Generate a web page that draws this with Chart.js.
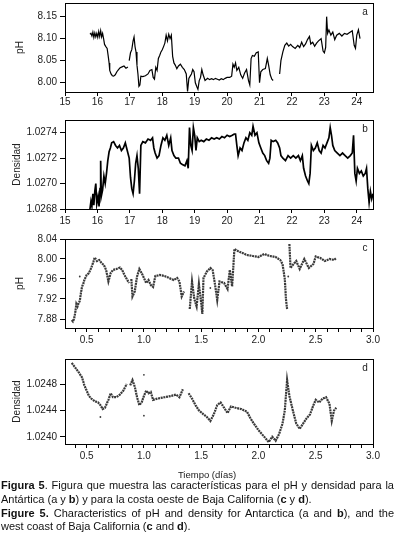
<!DOCTYPE html>
<html>
<head>
<meta charset="utf-8">
<script src="https://cdn.jsdelivr.net/npm/chart.js@4.4.1/dist/chart.umd.min.js"></script>
<style>
  body { margin: 0; background: #fff; width: 395px; height: 556px; overflow: hidden; position: relative; font-family: "Liberation Sans", Arial, sans-serif; }
  .panel { position: absolute; left: 0; }
  .xlab { position: absolute; top: 469px; left: 157px; width: 100px; text-align: center; font-size: 9.5px; color: #222; }
  .cap { position: absolute; left: 1px; width: 393px; font-size: 11px; color: #111; line-height: 13.8px; }
  .cap div { white-space: nowrap; }
  .cap .full { text-align: justify; text-align-last: justify; white-space: normal; }
</style>
</head>
<body>
<div class="panel" style="top:-7px"><canvas id="chartA"></canvas></div>
<div class="panel" style="top:110px"><canvas id="chartB"></canvas></div>
<div class="panel" style="top:229px"><canvas id="chartC"></canvas></div>
<div class="panel" style="top:349px"><canvas id="chartD"></canvas></div>
<div class="xlab">Tiempo (días)</div>
<div class="cap" style="top:479px">
  <div class="full"><b>Figura 5</b>. Figura que muestra las características para el pH y densidad para la</div>
  <div>Antártica (a y <b>b</b>) y para la costa oeste de Baja California (<b>c</b> y <b>d</b>).</div>
  <div class="full"><b>Figure 5.</b> Characteristics of pH and density for Antarctica (a and <b>b</b>), and the</div>
  <div>west coast of Baja California (<b>c</b> and <b>d</b>).</div>
</div>
<script>
// panel a: Antartica pH
const diasA = [15.77,15.80,15.83,15.86,15.89,15.92,15.95,15.98,16.01,16.04,16.07,16.10,16.13,16.16,16.19,16.22,16.26,16.30,16.33,16.36,16.38,16.42,16.46,16.50,16.55,16.60,16.65,16.70,16.76,16.82,16.88,16.94,16.96,
  16.98,17.02,17.06,17.10,17.13,17.16,17.19,17.22,17.25,17.28,17.31,17.34,17.40,17.48,17.56,17.62,17.68,17.72,17.76,17.80,17.84,17.88,17.92,17.96,18.00,18.04,18.08,18.12,18.16,18.20,18.24,18.28,18.32,18.36,18.40,18.45,18.50,18.56,18.62,18.68,18.74,18.78,18.82,18.86,18.90,18.94,18.98,
  19.02,19.06,19.10,19.14,19.18,19.22,19.26,19.32,19.40,19.46,19.52,19.58,19.64,19.70,19.76,19.82,19.88,19.94,20.00,20.08,20.14,20.18,20.22,20.26,20.30,20.36,20.42,20.48,20.54,20.60,20.66,20.70,20.74,20.78,20.84,20.90,20.96,
  21.00,21.04,21.10,21.18,21.24,21.28,21.33,21.38,21.42,21.50,21.62,21.66,21.72,21.78,21.84,21.90,21.96,22.02,22.10,22.18,22.24,22.30,22.36,22.42,22.48,22.54,22.58,22.64,22.70,22.76,22.82,22.90,22.96,
  23.00,23.04,23.07,23.10,23.14,23.20,23.26,23.32,23.38,23.46,23.54,23.62,23.70,23.78,23.86,23.92,23.96,24.00,24.05,24.10];
const phA = [8.110,8.112,8.106,8.115,8.103,8.113,8.104,8.112,8.103,8.116,8.105,8.118,8.104,8.112,8.100,8.087,8.082,8.078,8.062,8.045,8.028,8.020,8.016,8.015,8.018,8.025,8.030,8.034,8.036,8.038,8.033,8.036,null,
  8.050,8.068,8.075,8.095,8.104,8.082,8.070,8.040,8.020,7.992,7.995,8.015,8.014,8.016,8.020,8.028,8.030,8.012,8.008,8.035,8.028,8.055,8.062,8.070,8.075,8.082,8.090,8.108,8.095,8.110,8.100,8.108,8.060,8.045,8.040,8.032,8.038,8.042,8.035,8.030,8.020,7.980,8.010,8.015,8.020,8.030,8.025,
  8.000,7.992,7.985,8.005,8.012,8.030,8.018,8.005,8.010,8.007,8.009,8.007,8.010,8.008,8.006,8.009,8.007,8.010,8.012,8.012,8.015,8.042,8.035,8.045,8.028,8.035,8.018,8.010,8.022,8.030,8.005,7.995,8.055,8.062,8.060,8.068,8.070,
  8.000,8.025,8.030,8.032,8.055,8.040,8.018,8.008,8.005,null,8.020,8.050,8.070,8.085,8.090,8.083,8.087,8.082,8.078,8.085,8.080,8.092,8.082,8.088,8.098,8.105,8.088,8.092,8.083,8.090,8.095,8.100,8.072,
  8.068,8.080,8.150,8.112,8.120,8.108,8.115,8.098,8.108,8.112,8.106,8.112,8.110,8.114,8.118,8.085,8.078,8.108,8.120,8.100];

// panel b: Antartica densidad
const diasB = [15.77,15.80,15.83,15.86,15.89,15.92,15.95,15.98,16.02,16.05,16.08,16.10,16.12,16.16,16.20,16.24,16.28,16.32,16.36,16.40,16.44,16.50,16.56,16.62,16.68,16.74,16.80,16.86,16.92,16.98,
  17.02,17.06,17.10,17.14,17.18,17.22,17.26,17.30,17.34,17.40,17.48,17.56,17.64,17.70,17.74,17.78,17.84,17.90,17.96,18.02,18.08,18.14,18.20,18.26,18.30,18.36,18.42,18.50,18.56,18.62,18.70,18.76,18.80,18.84,18.88,18.92,18.96,
  19.00,19.04,19.08,19.14,19.20,19.28,19.36,19.44,19.52,19.60,19.68,19.76,19.84,19.92,20.00,20.08,20.16,20.22,20.26,20.30,20.34,20.40,20.46,20.52,20.58,20.64,20.70,20.76,20.80,20.86,20.92,20.98,
  21.04,21.10,21.16,21.22,21.28,21.32,21.36,21.42,21.50,21.56,21.62,21.66,21.72,21.80,21.88,21.96,22.04,22.12,22.20,22.26,22.32,22.36,22.42,22.48,22.52,22.56,22.60,22.66,22.72,22.78,22.84,22.90,22.96,
  23.02,23.08,23.14,23.18,23.22,23.26,23.32,23.40,23.48,23.56,23.64,23.72,23.80,23.86,23.90,23.94,23.98,24.02,24.08,24.14,24.20,24.26,24.30,24.34,24.38,24.42,24.46,24.50];
const densB = [1.02680,1.02686,1.02682,1.02692,1.02683,1.02694,1.02700,1.02684,1.02690,1.02682,1.02696,1.02718,1.02690,1.02695,1.02706,1.02700,1.02708,1.02718,1.02725,1.02728,1.02732,1.02733,1.02730,1.02728,1.02730,1.02726,1.02728,1.02732,1.02726,1.02720,
  1.02705,1.02696,1.02692,1.02702,1.02716,1.02722,1.02712,1.02692,1.02730,1.02733,1.02732,1.02735,1.02734,1.02736,1.02728,1.02724,1.02720,1.02722,1.02730,1.02736,1.02734,1.02738,1.02730,1.02736,1.02726,1.02722,1.02720,1.02720,1.02716,1.02715,1.02714,1.02718,1.02712,1.02744,1.02730,1.02726,1.02744,
  1.02738,1.02726,1.02736,1.02733,1.02734,1.02733,1.02735,1.02734,1.02736,1.02735,1.02736,1.02735,1.02737,1.02736,1.02738,1.02737,1.02738,1.02739,1.02739,1.02730,1.02722,1.02728,1.02726,1.02732,1.02736,1.02734,1.02740,1.02738,1.02745,1.02738,1.02740,1.02732,
  1.02728,1.02724,1.02722,1.02718,1.02716,1.02720,1.02734,1.02733,1.02734,1.02732,1.02728,1.02722,1.02720,1.02718,1.02722,1.02720,1.02722,1.02720,1.02722,1.02718,1.02722,1.02712,1.02706,1.02702,1.02700,1.02708,1.02730,1.02726,1.02728,1.02732,1.02726,1.02724,1.02730,
  1.02728,1.02732,1.02736,1.02744,1.02738,1.02730,1.02726,1.02724,1.02722,1.02724,1.02722,1.02720,1.02722,1.02724,1.02738,1.02708,1.02702,1.02712,1.02708,1.02710,1.02706,1.02708,1.02712,1.02696,1.02685,1.02694,1.02688,1.02692];

// panel c: Baja California pH
const diasC = [0.37,0.38,0.39,0.40,0.41,0.42,0.43,0.44,0.45,0.46,0.47,0.48,0.50,0.52,0.54,0.56,0.57,0.59,0.61,0.63,0.65,0.67,0.69,0.71,0.73,0.76,0.79,0.81,0.83,0.85,0.87,0.88,
  0.89,0.90,0.92,0.94,0.96,0.98,1.00,1.02,1.04,1.06,1.08,1.10,1.14,1.18,1.22,1.26,1.29,1.31,1.33,1.35,1.36,
  1.40,1.42,1.44,1.46,1.48,1.50,1.51,1.52,1.55,1.58,1.60,1.62,1.64,1.66,1.70,1.73,1.75,1.77,1.79,1.82,1.86,1.90,1.95,2.00,2.05,2.10,2.15,2.19,2.21,2.23,2.24,2.25,2.255,
  2.27,2.28,2.30,2.33,2.36,2.40,2.44,2.48,2.50,2.54,2.58,2.62,2.66,2.68];
const phC = [7.878,7.875,7.880,7.892,7.910,7.905,7.912,7.916,7.932,7.945,7.950,7.958,7.968,7.972,7.982,7.995,8.003,7.996,7.998,7.992,7.988,7.978,7.955,7.972,7.978,7.980,7.983,7.978,7.968,7.960,7.952,null,
  7.960,7.925,7.935,7.965,7.980,7.972,7.962,7.952,7.958,7.948,7.944,7.966,7.968,7.966,7.962,7.958,7.962,7.955,7.925,7.935,null,
  7.900,7.955,7.920,7.905,7.950,7.912,7.890,7.962,7.975,7.982,7.978,7.950,7.918,7.955,7.952,7.940,7.978,7.945,8.020,8.016,8.012,8.008,8.006,8.004,8.010,8.006,8.004,7.998,7.990,7.960,7.920,7.900,null,
  8.030,7.982,7.988,7.996,7.980,8.000,7.982,7.990,8.005,8.002,7.996,8.000,7.998,8.002];
const sueltosDiasC = [0.44, 1.58, 2.26];
const sueltosPhC = [7.965, 7.942, 7.965];

// panel d: Baja California densidad
const diasD = [0.37,0.40,0.43,0.46,0.48,0.50,0.52,0.54,0.57,0.60,0.62,0.64,0.66,0.69,0.71,0.73,0.76,0.79,0.82,0.85,0.86,
  0.88,0.90,0.92,0.94,0.96,0.98,1.00,1.02,1.04,1.06,1.08,1.12,1.18,1.24,1.28,1.31,1.34,1.35,
  1.39,1.42,1.45,1.48,1.52,1.55,1.58,1.61,1.64,1.67,1.70,1.73,1.76,1.80,1.85,1.90,1.93,1.96,2.00,2.03,2.06,2.09,2.12,2.15,2.18,2.21,2.23,2.25,2.27,2.30,2.33,2.36,2.39,2.42,2.45,2.48,2.50,2.53,2.56,2.59,2.62,2.64,2.66,2.68];
const densD = [1.02512,1.02505,1.02498,1.02490,1.02478,1.02470,1.02462,1.02458,1.02454,1.02452,1.02448,1.02442,1.02444,1.02456,1.02466,1.02460,1.02460,1.02464,1.02470,1.02480,null,
  1.02478,1.02486,1.02476,1.02460,1.02448,1.02452,1.02462,1.02470,1.02466,1.02468,1.02456,1.02458,1.02460,1.02462,1.02464,1.02460,1.02472,null,
  1.02466,1.02458,1.02448,1.02440,1.02434,1.02430,1.02424,1.02434,1.02448,1.02452,1.02444,1.02436,1.02446,1.02444,1.02442,1.02438,1.02428,1.02420,1.02410,1.02404,1.02398,1.02392,1.02400,1.02394,1.02404,1.02420,1.02440,1.02486,1.02462,1.02440,1.02420,1.02412,1.02420,1.02428,1.02434,1.02448,1.02456,1.02452,1.02458,1.02460,1.02450,1.02424,1.02440,1.02444];
const sueltosDiasD = [0.62, 1.00, 1.00];
const sueltosDensD = [1.02430, 1.02494, 1.02432];

// ticks
const ticksDias = [15,16,17,18,19,20,21,22,23,24];
const ticksPhA = [8.00,8.05,8.10,8.15];
const ticksDensB = [1.0268,1.0270,1.0272,1.0274];
const ticksTiempo = [0.4,0.5,0.6,0.7,0.8,0.9,1.0,1.1,1.2,1.3,1.4,1.5,1.6,1.7,1.8,1.9,2.0,2.1,2.2,2.3,2.4,2.5,2.6,2.7,2.8,2.9,3.0];
const etiquetasTiempo = [0.5,1.0,1.5,2.0,2.5,3.0];
const ticksPhC = [7.88,7.92,7.96,8.00,8.04];
const ticksDensD = [1.0240,1.0244,1.0248];

function pares(xs, ys) {
    return xs.map(function(x, i) { return { x: x, y: ys[i] }; });
}

const marco = {
    id: 'marco',
    afterDraw: function(chart) {
        const a = chart.chartArea;
        const ctx = chart.ctx;
        ctx.save();
        ctx.strokeStyle = '#000';
        ctx.lineWidth = 1;
        ctx.strokeRect(Math.round(a.left) + 0.5, Math.round(a.top) + 0.5, Math.round(a.right - a.left), Math.round(a.bottom - a.top));
        // letra del panel
        ctx.fillStyle = '#222';
        ctx.font = '10px "Liberation Sans", Arial, sans-serif';
        ctx.textAlign = 'center';
        ctx.textBaseline = 'middle';
        ctx.fillText(chart.options.plugins.marco.letra, a.right - 8, a.top + 9);
        ctx.restore();
    }
};

const fuente = { family: '"Liberation Sans", Arial, sans-serif', size: 10 };

function crearPanel(id, cfg) {
    const canvas = document.getElementById(id);
    canvas.style.width = '395px';
    canvas.style.height = cfg.alto + 'px';
    canvas.width = 395;
    canvas.height = cfg.alto;
    return new Chart(canvas.getContext('2d'), {
        type: 'line',
        data: { datasets: cfg.datasets },
        options: {
            responsive: false,
            animation: false,
            devicePixelRatio: 1,
            layout: { padding: { top: 10, right: 22, bottom: 0, left: 0 } },
            plugins: { legend: { display: false }, tooltip: { enabled: false }, marco: { letra: cfg.letra } },
            scales: {
                x: {
                    type: 'linear',
                    min: cfg.xmin, max: cfg.xmax,
                    border: { display: false },
                    grid: { display: true, drawOnChartArea: false, drawTicks: true, tickLength: 4, color: '#000' },
                    ticks: {
                        color: '#222', font: fuente, padding: cfg.xpad, maxRotation: 0, autoSkip: false,
                        callback: cfg.xlabel
                    },
                    afterBuildTicks: function(s) { s.ticks = cfg.xticks.map(function(v) { return { value: v }; }); },
                    afterFit: function(s) { s.height = 20; }
                },
                y: {
                    type: 'linear',
                    min: cfg.ymin, max: cfg.ymax,
                    border: { display: false },
                    grid: { display: true, drawOnChartArea: false, drawTicks: true, tickLength: 5, color: '#000' },
                    ticks: {
                        color: '#222', font: fuente, padding: 3,
                        callback: function(v) { return v.toFixed(cfg.decimales); }
                    },
                    title: { display: true, text: cfg.titulo, color: '#222', font: fuente, padding: { top: cfg.tpad, bottom: 0 } },
                    afterBuildTicks: function(s) { s.ticks = cfg.yticks.map(function(v) { return { value: v }; }); },
                    afterFit: function(s) { s.width = 65; }
                }
            }
        },
        plugins: [marco]
    });
}

function etiquetaEntera(v) { return String(v); }
function etiquetaTiempo(v) {
    const r = Math.round(v * 10) / 10;
    return etiquetasTiempo.some(function(e) { return Math.abs(e - r) < 1e-6; }) ? r.toFixed(1) : '';
}

function linea(xs, ys, ancho) {
    return { data: pares(xs, ys), borderColor: '#000', borderWidth: ancho, pointRadius: 0, tension: 0, spanGaps: false };
}
function puntos(xs, ys) {
    return { data: pares(xs, ys), borderColor: '#3a3a3a', borderWidth: 2.2, borderDash: [2, 0.7], pointRadius: 0, tension: 0, spanGaps: false };
}
function sueltos(xs, ys) {
    return { data: pares(xs, ys), showLine: false, pointRadius: 0.9, pointBackgroundColor: '#3a3a3a', pointBorderWidth: 0 };
}

crearPanel('chartA', {
    alto: 119, letra: 'a', titulo: 'pH', tpad: 14, decimales: 2,
    xmin: 15, xmax: 24.5, xticks: ticksDias, xlabel: etiquetaEntera, xpad: 0,
    ymin: 7.979, ymax: 8.181, yticks: ticksPhA,
    datasets: [linea(diasA, phA, 1.2)]
});
crearPanel('chartB', {
    alto: 119, letra: 'b', titulo: 'Densidad', tpad: 11, decimales: 4,
    xmin: 15, xmax: 24.5, xticks: ticksDias, xlabel: etiquetaEntera, xpad: 2,
    ymin: 1.0268, ymax: 1.02750, yticks: ticksDensB,
    datasets: [linea(diasB, densB, 1.7)]
});
crearPanel('chartC', {
    alto: 119, letra: 'c', titulo: 'pH', tpad: 14, decimales: 2,
    xmin: 0.311, xmax: 3.0, xticks: ticksTiempo, xlabel: etiquetaTiempo, xpad: 2,
    ymin: 7.862, ymax: 8.04, yticks: ticksPhC,
    datasets: [puntos(diasC, phC), sueltos(sueltosDiasC, sueltosPhC)]
});
crearPanel('chartD', {
    alto: 115, letra: 'd', titulo: 'Densidad', tpad: 11, decimales: 4,
    xmin: 0.311, xmax: 3.0, xticks: ticksTiempo, xlabel: etiquetaTiempo, xpad: 2,
    ymin: 1.02389, ymax: 1.02518, yticks: ticksDensD,
    datasets: [puntos(diasD, densD), sueltos(sueltosDiasD, sueltosDensD)]
});
</script>
</body>
</html>
